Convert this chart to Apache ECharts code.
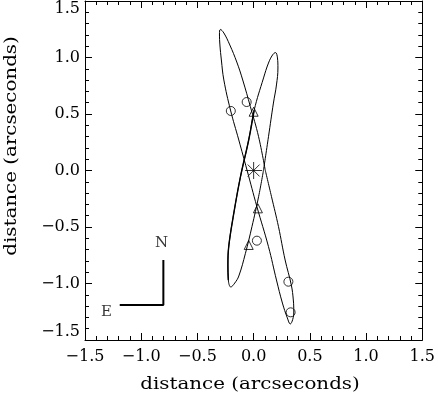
<!DOCTYPE html>
<html><head><meta charset="utf-8">
<script src="https://cdn.jsdelivr.net/npm/echarts@6/dist/echarts.min.js"></script>
<style>html,body{margin:0;padding:0;background:#fff}#c{width:438px;height:397px}</style>
</head><body><div id="c"></div>
<script>
// Tick values (arcseconds)
const ticks = [-1.5, -1.0, -0.5, 0.0, 0.5, 1.0, 1.5];
const axisTitle = 'distance (arcseconds)';

// Orbit A (tall loop, upper-left to lower-right)
const orbitA = [
  [0.103, 0.004], [0.159, -0.232], [0.221, -0.497], [0.280, -0.792], [0.335, -1.013],
  [0.353, -1.146], [0.357, -1.252], [0.347, -1.320], [0.326, -1.358], [0.300, -1.305],
  [0.256, -1.173], [0.203, -0.969], [0.132, -0.674], [0.029, -0.320], [-0.059, 0.004],
  [-0.132, 0.270], [-0.206, 0.535], [-0.265, 0.801], [-0.287, 0.978], [-0.300, 1.111],
  [-0.304, 1.208], [-0.296, 1.248], [-0.265, 1.217], [-0.212, 1.111], [-0.150, 0.960],
  [-0.097, 0.801], [-0.029, 0.565], [0.044, 0.299], [0.103, 0.004]
];
// Orbit B (loop, upper-right to lower-left)
const orbitB = [
  [0.088, 0.004], [0.044, -0.232], [-0.015, -0.497], [-0.073, -0.733], [-0.132, -0.934],
  [-0.168, -0.996], [-0.203, -1.031], [-0.225, -0.969], [-0.229, -0.836], [-0.221, -0.668],
  [-0.176, -0.376], [-0.117, -0.055], [-0.044, 0.270], [0.005, 0.535], [0.088, 0.819],
  [0.132, 0.951], [0.168, 1.022], [0.194, 1.044], [0.212, 0.996], [0.216, 0.907],
  [0.203, 0.757], [0.176, 0.597], [0.132, 0.299], [0.088, 0.004]
];
// Observed positions
const circlePts = [[-0.203, 0.527], [-0.062, 0.606], [0.029, -0.621], [0.309, -0.984], [0.329, -1.255]];
const trianglePts = [[0.000, 0.520], [0.038, -0.335], [-0.044, -0.659]];
const starPt = [[0, 0]];
// Compass (E - N)
const compassLine = [[-1.191, -1.19], [-0.803, -1.19], [-0.803, -0.792]];
const compassN = [[-0.82, -0.64]];
const compassE = [[-1.31, -1.25]];

const FONT = 'DejaVu Serif';
const fmt = v => (v < 0 ? '\u2212' : '') + Math.abs(v).toFixed(1);

function ax(pos, labels) {
  return {
    type: 'value', position: pos, min: ticks[0], max: ticks[ticks.length - 1], interval: 0.5,
    axisLine: { show: true, onZero: false, lineStyle: { color: '#000', width: 1 } },
    axisTick: { show: true, inside: true, length: 7, lineStyle: { color: '#000' } },
    minorTick: { show: true, splitNumber: 5, length: 4, lineStyle: { color: '#000' } },
    splitLine: { show: false },
    axisLabel: labels ? {
      show: true, color: '#000', fontFamily: FONT, fontSize: 16, formatter: fmt,
      margin: pos === 'left' ? 5 : 9,
      verticalAlignMinLabel: pos === 'left' ? 'bottom' : undefined,
      verticalAlignMaxLabel: pos === 'left' ? 'top' : undefined
    } : { show: false }
  };
}

const hollow = { color: 'none', borderColor: '#000', borderWidth: 1 };
const chart = echarts.init(document.getElementById('c'), null, { renderer: 'canvas' });
chart.setOption({
  animation: false,
  backgroundColor: '#fff',
  grid: { left: 85, top: 1, width: 340, height: 339 },
  xAxis: [ax('bottom', true), ax('top', false)],
  yAxis: [ax('left', true), ax('right', false)],
  graphic: [
    { type: 'text', x: 250, y: 385, scaleX: 1.24, style: { text: axisTitle, font: '16px "DejaVu Serif"', fill: '#000', align: 'center', verticalAlign: 'middle' } },
    { type: 'text', x: 12, y: 146, rotation: Math.PI / 2, scaleX: 1.24, style: { text: axisTitle, font: '16px "DejaVu Serif"', fill: '#000', align: 'center', verticalAlign: 'middle' } }
  ],
  series: [
    { type: 'line', data: orbitA, smooth: 0.4, showSymbol: false, lineStyle: { color: '#000', width: 1 } },
    { type: 'line', data: orbitB, smooth: 0.4, showSymbol: false, lineStyle: { color: '#000', width: 1 } },
    { type: 'line', data: orbitB.slice(7, 14), smooth: 0.4, showSymbol: false, lineStyle: { color: '#000', width: 1.4 } },
    { type: 'scatter', data: circlePts, symbol: 'circle', symbolSize: 9, itemStyle: hollow },
    { type: 'scatter', data: trianglePts, symbol: 'triangle', symbolSize: 9, itemStyle: hollow },
    { type: 'scatter', data: starPt, symbol: 'path://M0,-10L0,10M-10,0L10,0M-7,-7L7,7M-7,7L7,-7', symbolSize: 17, itemStyle: hollow },
    { type: 'line', data: compassLine, showSymbol: false, lineStyle: { color: '#000', width: 2 } },
    { type: 'scatter', data: compassN, symbolSize: 0, label: { show: true, formatter: 'N', position: 'inside', color: '#000', fontFamily: FONT, fontSize: 15 } },
    { type: 'scatter', data: compassE, symbolSize: 0, label: { show: true, formatter: 'E', position: 'inside', color: '#000', fontFamily: FONT, fontSize: 15 } }
  ]
});
</script></body></html>
